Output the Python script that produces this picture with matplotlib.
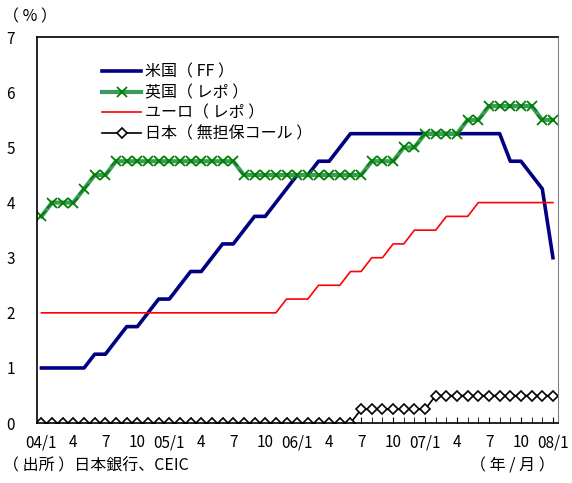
import numpy as np
import matplotlib
matplotlib.use("Agg")
import matplotlib.pyplot as plt

plt.rcParams['font.family'] = ['Noto Sans CJK JP', 'DejaVu Sans']

# monthly, 2004/1 .. 2008/1
months = np.arange(49)
tick_pos = np.arange(0, 49, 3)
tick_labels = ["04/1", "4", "7", "10", "05/1", "4", "7", "10", "06/1", "4", "7",
               "10", "07/1", "4", "7", "10", "08/1"]

us_ff = [1.0, 1.0, 1.0, 1.0, 1.0, 1.25, 1.25, 1.5, 1.75, 1.75, 2.0, 2.25,
         2.25, 2.5, 2.75, 2.75, 3.0, 3.25, 3.25, 3.5, 3.75, 3.75, 4.0, 4.25,
         4.5, 4.5, 4.75, 4.75, 5.0, 5.25, 5.25, 5.25, 5.25, 5.25, 5.25, 5.25,
         5.25, 5.25, 5.25, 5.25, 5.25, 5.25, 5.25, 5.25, 4.75, 4.75, 4.5, 4.25,
         3.0]
uk_repo = [3.75, 4.0, 4.0, 4.0, 4.25, 4.5, 4.5, 4.75, 4.75, 4.75, 4.75, 4.75,
           4.75, 4.75, 4.75, 4.75, 4.75, 4.75, 4.75, 4.5, 4.5, 4.5, 4.5, 4.5,
           4.5, 4.5, 4.5, 4.5, 4.5, 4.5, 4.5, 4.75, 4.75, 4.75, 5.0, 5.0,
           5.25, 5.25, 5.25, 5.25, 5.5, 5.5, 5.75, 5.75, 5.75, 5.75, 5.75, 5.5,
           5.5]
euro_repo = [2.0] * 23 + [2.25, 2.25, 2.25, 2.5, 2.5, 2.5, 2.75, 2.75, 3.0, 3.0,
             3.25, 3.25, 3.5, 3.5, 3.5, 3.75, 3.75, 3.75, 4.0, 4.0, 4.0, 4.0,
             4.0, 4.0, 4.0, 4.0]
jp_call = [0.0] * 30 + [0.25] * 7 + [0.5] * 12

fig = plt.figure(figsize=(5.72, 4.83), dpi=100)
ax = fig.add_axes((0.065, 0.124, 0.911, 0.799))

ax.plot(months, us_ff, color="#000080", lw=2.6, label="米国（ FF ）")
ax.plot(months, uk_repo, color="#3c9a5f", lw=3, marker="x", ms=7, mew=1.3,
        mec="#008000", label="英国（ レポ ）")
ax.plot(months, euro_repo, color="#ff0000", lw=1.2, label="ユーロ（ レポ ）")
ax.plot(months, jp_call, color="black", lw=1.2, marker="D", ms=5.5, mew=1.2,
        mfc="white", mec="black", label="日本（ 無担保コール ）")

ax.set_xlim(-0.4, 48.5)
ax.set_ylim(0, 7)
ax.set_yticks(range(8))
ax.set_xticks(tick_pos)
ax.set_xticklabels(tick_labels)
ax.set_xticks(months, minor=True)
ax.tick_params(axis="x", which="both", direction="in", length=4, pad=8,
               labelsize=11, top=False)
ax.tick_params(axis="y", length=0, pad=16, labelsize=11)
for s in ["left", "bottom", "top"]:
    ax.spines[s].set_color("black")
    ax.spines[s].set_linewidth(1.2)
ax.spines["right"].set_color("#808080")

ax.legend(loc="upper left", bbox_to_anchor=(0.113, 0.948), frameon=False,
          fontsize=11.5, handlelength=2.4, handletextpad=0.25, labelspacing=0.22,
          borderaxespad=0)

fig.text(0.005, 0.965, "（ % ）", fontsize=11.5, va="center", ha="left")
fig.text(0.005, 0.035, "（ 出所 ）日本銀行、CEIC", fontsize=11.5, va="center", ha="left")
fig.text(0.97, 0.035, "（ 年 / 月 ）", fontsize=11.5, va="center", ha="right")

fig.savefig("out.png", dpi=100)
